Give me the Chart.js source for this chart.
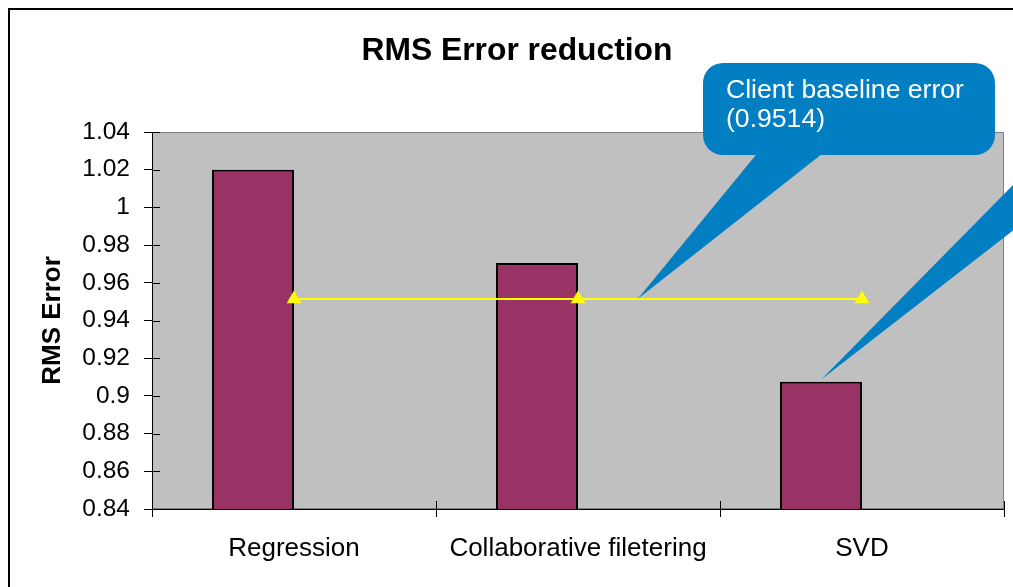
<!DOCTYPE html>
<html>
<head>
<meta charset="utf-8">
<script src="https://cdn.jsdelivr.net/npm/chart.js@4/dist/chart.umd.min.js"></script>
<style>
  html, body { margin: 0; padding: 0; background: #fff; }
  #wrap { width: 1013px; height: 587px; }
</style>
</head>
<body>
<div id="wrap"><canvas id="chart"></canvas></div>
<script>
// data
const categories = ['Regression', 'Collaborative filetering', 'SVD'];
const rmsError = [1.02, 0.9705, 0.9075];
const baselineError = [0.9514, 0.9514, 0.9514];
const emptySeries = [null, null, null];
const yMin = 0.84, yMax = 1.04, yStep = 0.02;
const chartTitle = 'RMS Error reduction';
const calloutLines = ['Client baseline error', '(0.9514)'];

const FONT = '"Liberation Sans", Arial, sans-serif';
const BLUE = '#027EC2';

// gray plot background + light border
const plotBg = {
  id: 'plotBg',
  beforeDraw(chart) {
    const { ctx, chartArea: a } = chart;
    ctx.save();
    ctx.fillStyle = '#C0C0C0';
    ctx.fillRect(a.left, a.top, a.right - a.left, a.bottom - a.top);
    ctx.strokeStyle = '#808080';
    ctx.lineWidth = 1;
    ctx.strokeRect(a.left + 0.5, a.top + 0.5, a.right - a.left - 1, a.bottom - a.top - 1);
    ctx.restore();
  }
};

// tick marks cross the axis (inner half)
const innerTicks = {
  id: 'innerTicks',
  afterDatasetsDraw(chart) {
    const { ctx, chartArea: a, scales } = chart;
    ctx.save();
    ctx.strokeStyle = '#000';
    ctx.lineWidth = 1;
    ctx.beginPath();
    scales.y.ticks.forEach(t => {
      const y = Math.round(scales.y.getPixelForValue(t.value)) + 0.5;
      ctx.moveTo(a.left, y);
      ctx.lineTo(a.left + 8, y);
    });
    const w = scales.x.width / categories.length;
    for (let i = 0; i <= categories.length; i++) {
      const x = Math.round(a.left + i * w) + 0.5;
      ctx.moveTo(x, a.bottom);
      ctx.lineTo(x, a.bottom - 8);
    }
    ctx.stroke();
    ctx.restore();
  }
};

// title, callouts, outer frame
const decorations = {
  id: 'decorations',
  afterDraw(chart) {
    const { ctx, scales } = chart;
    ctx.save();

    ctx.fillStyle = '#000';
    ctx.font = 'bold 31.8px ' + FONT;
    ctx.textAlign = 'center';
    ctx.textBaseline = 'middle';
    ctx.fillText(chartTitle, 517, 51);

    ctx.fillStyle = BLUE;
    // callout pointing at the baseline line
    const catW = scales.x.width / categories.length;
    const tipX = scales.x.getPixelForValue(1) + 0.21 * catW;
    const tipY = scales.y.getPixelForValue(baselineError[1]);
    ctx.beginPath();
    ctx.moveTo(760, 150);
    ctx.lineTo(827, 150);
    ctx.lineTo(tipX, tipY);
    ctx.closePath();
    ctx.fill();
    ctx.beginPath();
    ctx.roundRect(703, 63, 292, 92, 20);
    ctx.fill();

    // callout from off-screen pointing at the SVD bar
    const bar = chart.getDatasetMeta(0).data[2];
    ctx.beginPath();
    ctx.moveTo(bar.x, bar.y - 2);
    ctx.lineTo(1020, 178);
    ctx.lineTo(1020, 225);
    ctx.closePath();
    ctx.fill();

    ctx.fillStyle = '#fff';
    ctx.font = '26.6px ' + FONT;
    ctx.textAlign = 'left';
    ctx.textBaseline = 'alphabetic';
    ctx.fillText(calloutLines[0], 726, 98);
    ctx.fillText(calloutLines[1], 726, 127);

    ctx.strokeStyle = '#000';
    ctx.lineWidth = 2;
    ctx.strokeRect(9, 9, 1100, 1000);
    ctx.restore();
  }
};

new Chart(document.getElementById('chart'), {
  data: {
    labels: categories,
    datasets: [
      {
        type: 'bar',
        label: 'RMS Error',
        data: rmsError,
        backgroundColor: '#993366',
        borderColor: '#000',
        borderWidth: 2,
        borderSkipped: false,
        categoryPercentage: 0.5775,
        barPercentage: 1,
        order: 1
      },
      {
        type: 'bar',
        label: '',
        data: emptySeries,
        categoryPercentage: 0.5775,
        barPercentage: 1,
        order: 2
      },
      {
        type: 'line',
        label: 'Client baseline error',
        data: baselineError,
        borderColor: '#FFFF00',
        borderWidth: 2,
        pointStyle: 'triangle',
        pointRadius: 8.5,
        pointBackgroundColor: '#FFFF00',
        pointBorderColor: '#FFFF00',
        pointBorderWidth: 0,
        order: 0
      }
    ]
  },
  options: {
    responsive: true,
    maintainAspectRatio: false,
    animation: false,
    layout: { padding: { top: 132, right: 9, left: 0, bottom: 0 } },
    plugins: {
      legend: { display: false },
      tooltip: { enabled: false },
      title: { display: false }
    },
    scales: {
      x: {
        grid: { offset: true, drawOnChartArea: false, tickLength: 8, color: '#000' },
        border: { color: '#000' },
        ticks: { color: '#000', font: { family: FONT, size: 26 }, padding: 16, maxRotation: 0, autoSkip: false },
        afterFit(s) { s.height = 78; s.paddingLeft = 0; s.paddingRight = 0; }
      },
      y: {
        min: yMin,
        max: yMax,
        grid: { drawOnChartArea: false, tickLength: 8, color: '#000' },
        border: { color: '#000' },
        ticks: {
          stepSize: yStep,
          color: '#000',
          font: { family: FONT, size: 24.5 },
          padding: 14,
          callback: v => String(+v.toFixed(2))
        },
        title: {
          display: true,
          text: 'RMS Error',
          color: '#000',
          font: { family: FONT, size: 26, weight: 'bold' },
          padding: { top: 37, bottom: 0 }
        },
        afterFit(s) { s.width = 152; s.paddingTop = 0; s.paddingBottom = 0; }
      }
    }
  },
  plugins: [plotBg, innerTicks, decorations]
});
</script>
</body>
</html>
